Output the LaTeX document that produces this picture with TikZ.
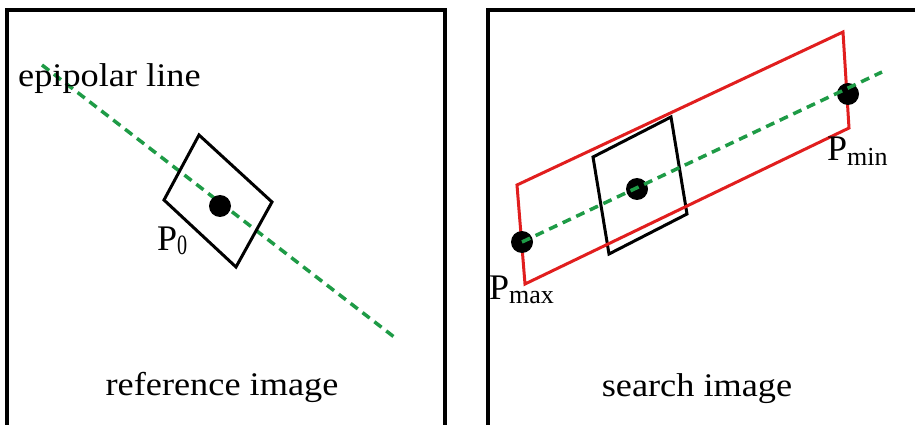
\documentclass[tikz,border=0pt]{standalone}
\usepackage{fontspec}
\setmainfont{Liberation Serif}
\newfontfamily\widefont[FakeStretch=1.1]{Liberation Serif}
\newfontfamily\narrowfont[FakeStretch=0.72]{Liberation Serif}
\definecolor{epigreen}{RGB}{30,155,70}
\definecolor{bandred}{RGB}{225,30,30}
\begin{document}
\begin{tikzpicture}[x=1pt,y=-1pt,
  panel/.style={draw=black,line width=3.5pt,line cap=butt},
  window/.style={draw=black,line width=3pt,line join=miter},
  band/.style={draw=bandred,line width=3pt,line join=miter},
  epiline/.style={draw=epigreen,line width=3.5pt,dash pattern=on 9pt off 6pt},
  pt/.style={circle,fill=black,inner sep=0pt,minimum size=22pt},
  caption/.style={font=\widefont\fontsize{33}{38}\selectfont,inner sep=0pt},
  plabel/.style={font=\fontsize{36}{40}\selectfont,inner sep=0pt,anchor=base west}
  ]
\useasboundingbox (0,0) rectangle (919,425);

% ---- left panel: reference image ----
\draw[panel] (7,425) -- (7,10) -- (445,10) -- (445,425);
\coordinate (eL1) at (42,65);
\coordinate (eL2) at (398,340);
\draw[epiline] (eL1) -- (eL2);
\coordinate (w1) at (199,135);
\coordinate (w2) at (272,202);
\coordinate (w3) at (236,267);
\coordinate (w4) at (164,200);
\draw[window] (w1) -- (w2) -- (w3) -- (w4) -- cycle;
\node[pt] (p0dot) at (220,206) {};
\node[caption,anchor=base west] (epi) at (18,87) {epipolar line};
\node[plabel] (p0) at (157,251)
  {P\kern0pt\raisebox{-4pt}{\narrowfont\fontsize{28}{30}\selectfont 0}};
\node[caption,anchor=base] (refcap) at (222,395) {reference image};

% ---- right panel: search image ----
\draw[panel,line width=4.5pt] (915,10) -- (488,10) -- (488,425);
\coordinate (s1) at (593,157);
\coordinate (s2) at (671,117);
\coordinate (s3) at (687,214);
\coordinate (s4) at (609,254);
\draw[window] (s1) -- (s2) -- (s3) -- (s4) -- cycle;
\coordinate (b1) at (517,185);
\coordinate (b2) at (843,32);
\coordinate (b3) at (849,128);
\coordinate (b4) at (525,284);
\draw[band] (b1) -- (b2) -- (b3) -- (b4) -- cycle;
\node[pt] (pmaxdot) at (522,242) {};
\node[pt] (pmindot) at (848,94) {};
\node[pt] (cdot) at (637,189) {};
\coordinate (eR) at (882,72);
\draw[epiline] (pmaxdot.center) -- (eR);
\node[plabel] (pmax) at (489,299)
  {P\kern0pt\raisebox{-4pt}{\fontsize{26}{30}\selectfont max}};
\node[plabel] (pmin) at (827,161)
  {P\kern0pt\raisebox{-5pt}{\fontsize{26}{30}\selectfont min}};
\node[caption,anchor=base] (srchcap) at (697,396) {search image};
\end{tikzpicture}
\end{document}
